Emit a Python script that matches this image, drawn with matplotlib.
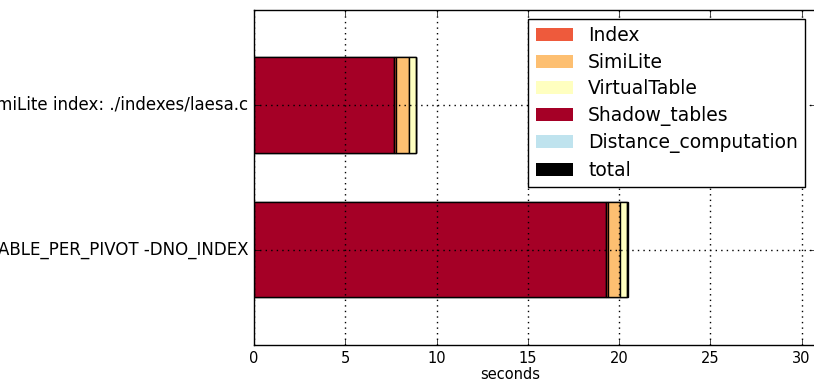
import matplotlib
matplotlib.use("Agg")
import matplotlib.pyplot as plt

# one row per configuration, bottom row first
configs = ["-DONE_TABLE_PER_PIVOT -DNO_INDEX",
           "SimiLite index: ./indexes/laesa.c"]
components = ["Index", "SimiLite", "VirtualTable", "Shadow_tables",
              "Distance_computation", "total"]
index_t = [0.08, 0.08]
similite_t = [0.65, 0.72]
virtualtable_t = [0.40, 0.40]
shadow_t = [19.30, 7.68]
distance_t = [0.0, 0.0]
total_t = [20.48, 8.88]

colors = {"Index": "#ee5a3c", "SimiLite": "#fdbf71", "VirtualTable": "#ffffc0",
          "Shadow_tables": "#a50026", "Distance_computation": "#bfe3ee",
          "total": "black"}

plt.style.use("classic")
plt.rcParams["figure.facecolor"] = "white"
plt.rcParams["savefig.facecolor"] = "white"

fig = plt.figure(figsize=(8.14, 3.85), dpi=100)
ax = fig.add_axes([0.312, 0.1039, 0.689, 0.8714])

ypos = list(range(len(configs)))
h = 0.66

# total behind, components stacked in front (shadow tables first)
ax.barh(ypos, total_t, height=h, align="center", color=colors["total"],
        edgecolor="black", zorder=1)
left = [0.0] * len(configs)
for name, vals in [("Shadow_tables", shadow_t), ("Index", index_t),
                   ("SimiLite", similite_t), ("VirtualTable", virtualtable_t),
                   ("Distance_computation", distance_t)]:
    ax.barh(ypos, vals, height=h, left=left, align="center",
            color=colors[name], edgecolor="black", zorder=2)
    left = [l + v for l, v in zip(left, vals)]

ax.set_xlim(0, max(total_t) * 1.5)
ax.set_ylim(-0.66, 1.66)
ax.set_yticks(ypos)
ax.set_yticklabels(configs, fontsize=12)
ax.set_xticks(range(0, 31, 5))
ax.tick_params(axis="x", labelsize=10.5)
ax.set_xlabel("seconds", fontsize=10.5)
ax.xaxis.set_label_coords(0.456, -0.065)
ax.grid(True, color="black", linestyle=":", linewidth=1.0)
ax.set_axisbelow(False)
for gl in ax.get_xgridlines() + ax.get_ygridlines():
    gl.set_zorder(3)

proxies = [plt.Rectangle((0, 0), 1, 1, facecolor=colors[c], edgecolor="none")
           for c in components]
ax.legend(proxies, components, loc="upper right", fontsize=13.5,
          handlelength=2.0, labelspacing=0.4, borderaxespad=0.5)

fig.savefig("out.png", dpi=100)
